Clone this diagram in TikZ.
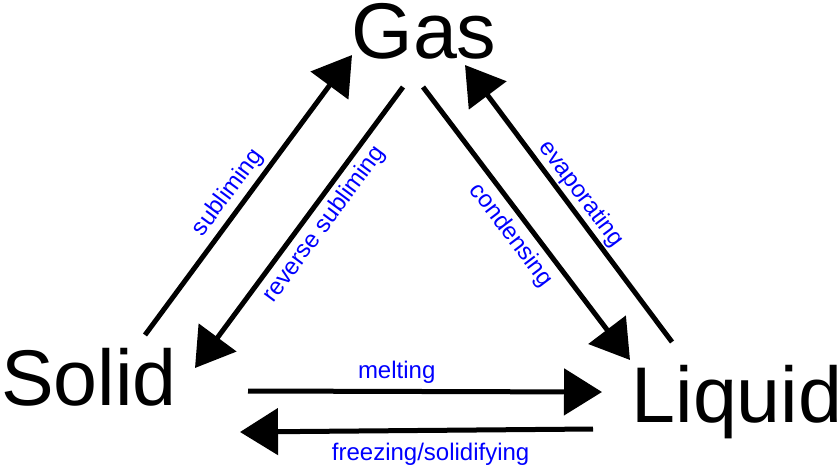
\documentclass[tikz,border=0pt]{standalone}
\usepackage{fontspec}
\setmainfont{Liberation Sans}
\usetikzlibrary{arrows.meta}

\begin{document}
\begin{tikzpicture}[x=1pt, y=-1pt, >={Triangle[length=38pt,width=46pt]},
    phase/.style={anchor=base, inner sep=0pt, font=\fontsize{79}{80}\selectfont},
    change/.style={->, line width=5pt},
    lbl/.style={text=blue, inner sep=2pt, font=\fontsize{24}{26}\selectfont}]

    \useasboundingbox (0,0) rectangle (840,464);

    % States
    \node[phase] at (424,58) (gas) {Gas};
    \node[phase] at (89,405) (solid) {Solid};
    \node[phase] at (737,422) (liquid) {Liquid};

    % Solid and gas
    \draw[change] ([shift={(56,-70)}]solid.base) -- ([shift={(-72,-3)}]gas.base)
        node[lbl, pos=0.47, sloped, above=2pt] {subliming};
    \draw[change] ([shift={(-21,29)}]gas.base) -- ([shift={(106,-37)}]solid.base)
        node[lbl, pos=0.45, sloped, below=3pt] {reverse subliming};

    % Gas and liquid
    \draw[change] ([shift={(-1,29)}]gas.base) -- ([shift={(-107,-62)}]liquid.base)
        node[lbl, pos=0.5, sloped, below=4pt] {condensing};
    \draw[change] ([shift={(-65,-80)}]liquid.base) -- ([shift={(41,7)}]gas.base)
        node[lbl, pos=0.5, sloped, above=0pt] {evaporating};

    % Solid and liquid
    \draw[change] ([shift={(159,-14)}]solid.base) -- ([shift={(-135,-30)}]liquid.base)
        node[lbl, pos=0.42, above=3pt] {melting};
    \draw[change] ([shift={(-144,7)}]liquid.base) -- ([shift={(151,27)}]solid.base)
        node[lbl, pos=0.46, below=8pt] {freezing/solidifying};

\end{tikzpicture}
\end{document}
